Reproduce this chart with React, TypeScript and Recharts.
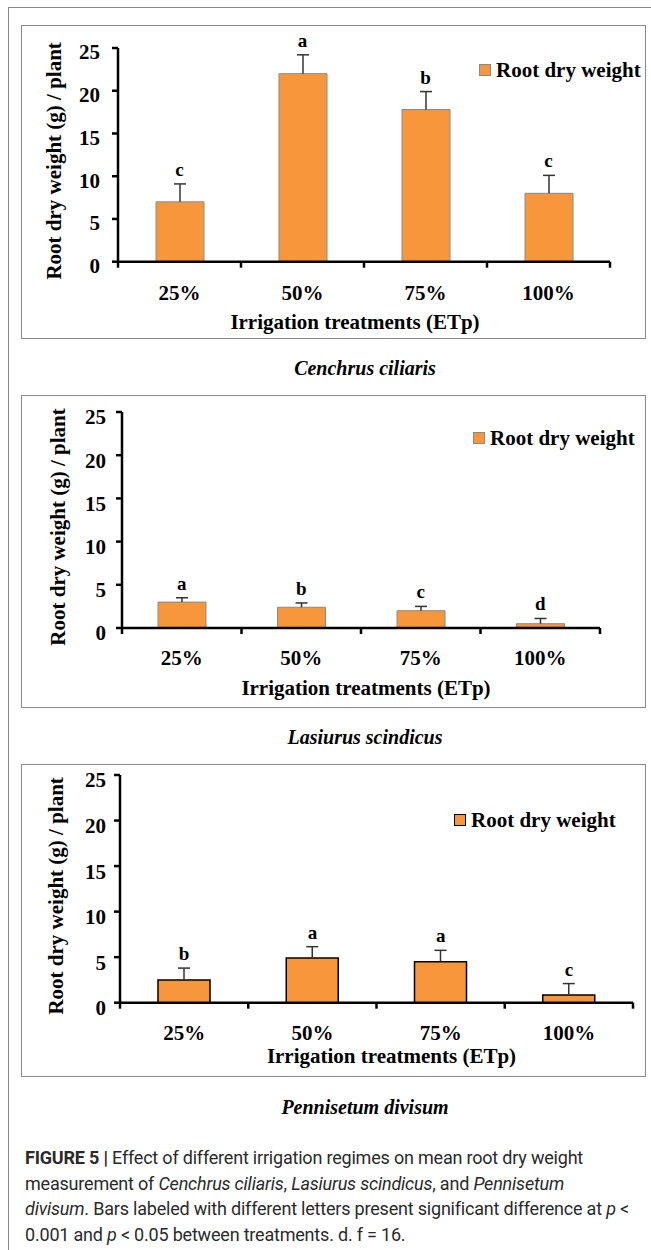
import { Bar, ComposedChart, LabelList, Legend, Line, XAxis, YAxis } from "recharts";

const categories = ["25%", "50%", "75%", "100%"];
const yTicks = [0, 5, 10, 15, 20, 25];

const cenchrusMean = [7.0, 22.0, 17.8, 8.0];
const cenchrusErr = [2.1, 2.2, 2.1, 2.1];
const cenchrusLetters = ["c", "a", "b", "c"];

const lasiurusMean = [3.0, 2.4, 2.0, 0.5];
const lasiurusErr = [0.5, 0.5, 0.5, 0.6];
const lasiurusLetters = ["a", "b", "c", "d"];

const pennisetumMean = [2.5, 4.9, 4.5, 0.85];
const pennisetumErr = [1.3, 1.25, 1.25, 1.25];
const pennisetumLetters = ["b", "a", "a", "c"];

const ORANGE = "#F8963C";
const SERIF = "'Liberation Serif', 'Times New Roman', serif";
const CHART_W = 625;

const toRows = (mean: number[], err: number[], letters: string[]) =>
  categories.map((c, i) => ({
    name: c,
    value: mean[i],
    err: err[i],
    top: mean[i] + err[i],
    letter: letters[i],
  }));

interface Geo {
  top: number;
  height: number;
  plotLeft: number;
  plotRight: number;
  plotTop: number;
  plotBottom: number;
  xTickBase: number;
  xTitleOffset: number;
  xTitleDx: number;
  yTitleDx: number;
  yTitleDy: number;
  yTickMargin: number;
  yTickDy: number;
  legendX: number;
  legendY: number;
  barSize: number;
  barStroke: string;
  barStrokeWidth: number;
  captionY: number;
}

// upper half of the error bar only: stem from bar top + cap
const ErrorShape = (props: any) => {
  const { x, y, width, height } = props;
  const cx = x + width / 2;
  return (
    <g>
      <line x1={cx} x2={cx} y1={y + height} y2={y} stroke="#333" strokeWidth={1.5} />
      <line x1={cx - 6} x2={cx + 6} y1={y} y2={y} stroke="#333" strokeWidth={1.5} />
    </g>
  );
};

function makeXTick(band: number, base: number) {
  return (props: any) => {
    const { x, y, payload, index } = props;
    const axisY = y - base;
    return (
      <g>
        <line x1={x - band / 2} x2={x - band / 2} y1={axisY} y2={axisY + 6} stroke="#000" strokeWidth={2.5} />
        {index === categories.length - 1 && (
          <line x1={x + band / 2} x2={x + band / 2} y1={axisY} y2={axisY + 6} stroke="#000" strokeWidth={2.5} />
        )}
        <text x={x} y={y} textAnchor="middle" fill="#000" fontSize={21} fontWeight="bold">
          {payload.value}
        </text>
      </g>
    );
  };
}

function Panel({ species, rows, g }: { species: string; rows: any[]; g: Geo }) {
  const band = (g.plotRight - g.plotLeft) / categories.length;
  return (
    <>
      <div
        style={{
          position: "absolute",
          left: 21,
          top: g.top,
          width: CHART_W,
          height: g.height,
          boxSizing: "border-box",
          border: "1px solid #8a8a8a",
        }}
      >
        <div style={{ position: "absolute", left: -1, top: -1 }}>
          <ComposedChart
            width={CHART_W}
            height={g.height}
            data={rows}
            margin={{ top: g.plotTop, right: CHART_W - g.plotRight, left: g.plotLeft - 60, bottom: 0 }}
          >
            <XAxis
              dataKey="name"
              height={g.height - g.plotBottom}
              axisLine={{ stroke: "#000", strokeWidth: 2.5 }}
              tickLine={false}
              tickSize={0}
              tickMargin={g.xTickBase}
              tick={makeXTick(band, g.xTickBase)}
              interval={0}
              label={{
                value: "Irrigation treatments (ETp)",
                position: "insideBottom",
                offset: g.xTitleOffset,
                dx: g.xTitleDx,
                fill: "#000",
                fontSize: 21,
                fontWeight: "bold",
              }}
            />
            <YAxis
              width={60}
              domain={[0, 25]}
              ticks={yTicks}
              interval={0}
              axisLine={{ stroke: "#000", strokeWidth: 2.5 }}
              tickLine={{ stroke: "#000", strokeWidth: 2.5 }}
              tickSize={6}
              tickMargin={g.yTickMargin}
              tick={{ fill: "#000", fontSize: 21, fontWeight: "bold", dy: g.yTickDy }}
              label={{
                value: "Root dry weight (g) / plant",
                angle: -90,
                position: "center",
                dx: g.yTitleDx,
                dy: g.yTitleDy,
                fill: "#000",
                fontSize: 21,
                fontWeight: "bold",
              }}
            />
            <Legend
              layout="vertical"
              align="center"
              verticalAlign="middle"
              wrapperStyle={{ left: g.legendX, top: g.legendY, width: 200, fontFamily: SERIF }}
              content={(props: any) => (
                <div style={{ display: "flex", alignItems: "center" }}>
                  {(props.payload || [])
                    .filter((p: any) => p.dataKey === "value")
                    .map((p: any) => (
                      <div key={p.value} style={{ display: "flex", alignItems: "center" }}>
                        <span
                          style={{
                            display: "inline-block",
                            width: 12,
                            height: 12,
                            background: ORANGE,
                            border: `1px solid ${g.barStroke}`,
                            boxSizing: "border-box",
                            marginRight: 5,
                          }}
                        />
                        <span style={{ fontFamily: SERIF, fontWeight: "bold", fontSize: 21, color: "#000", lineHeight: "24px" }}>
                          {p.value}
                        </span>
                      </div>
                    ))}
                </div>
              )}
            />
            <Bar
              dataKey="value"
              name="Root dry weight"
              stackId="s"
              fill={ORANGE}
              stroke={g.barStroke}
              strokeWidth={g.barStrokeWidth}
              barSize={g.barSize}
              isAnimationActive={false}
            />
            <Bar
              dataKey="err"
              stackId="s"
              legendType="none"
              barSize={g.barSize}
              shape={ErrorShape}
              isAnimationActive={false}
            />
            <Line
              dataKey="top"
              stroke="none"
              dot={false}
              activeDot={false}
              legendType="none"
              isAnimationActive={false}
            >
              <LabelList dataKey="letter" position="top" offset={8} fill="#000" fontSize={19} fontWeight="bold" />
            </Line>
          </ComposedChart>
        </div>
      </div>
      <div
        style={{
          position: "absolute",
          left: 165,
          top: g.captionY - 12,
          width: 400,
          textAlign: "center",
          fontFamily: SERIF,
          fontStyle: "italic",
          fontWeight: "bold",
          fontSize: 20,
          lineHeight: "24px",
        }}
      >
        {species}
      </div>
    </>
  );
}

const geo1: Geo = {
  top: 25, height: 314, plotLeft: 97, plotRight: 589, plotTop: 23, plotBottom: 236.7,
  xTickBase: 38, xTitleOffset: 10, xTitleDx: -9, yTitleDx: -34, yTitleDy: 6, yTickMargin: 12, yTickDy: 4,
  legendX: 458, legendY: 33, barSize: 48, barStroke: "#8a8a8a", barStrokeWidth: 1, captionY: 368,
};
const geo2: Geo = {
  top: 395, height: 313, plotLeft: 101, plotRight: 579, plotTop: 17, plotBottom: 233,
  xTickBase: 37, xTitleOffset: 13, xTitleDx: 5, yTitleDx: -34, yTitleDy: 7, yTickMargin: 10, yTickDy: 5,
  legendX: 452, legendY: 31, barSize: 48, barStroke: "#8a8a8a", barStrokeWidth: 1, captionY: 737,
};
const geo3: Geo = {
  top: 764, height: 313, plotLeft: 99, plotRight: 612, plotTop: 11, plotBottom: 238.7,
  xTickBase: 37.3, xTitleOffset: 14, xTitleDx: 15, yTitleDx: -34, yTitleDy: 7, yTickMargin: 8, yTickDy: 5,
  legendX: 433, legendY: 44, barSize: 52, barStroke: "#000", barStrokeWidth: 1.5, captionY: 1107,
};

export default function App() {
  return (
    <div
      style={{
        position: "absolute",
        left: 0,
        top: 0,
        width: 651,
        height: 1250,
        overflow: "hidden",
        background: "#fff",
        fontFamily: SERIF,
        fontWeight: "bold",
      }}
    >
      <div
        style={{
          position: "absolute",
          left: 8,
          top: 7,
          width: 700,
          height: 1300,
          borderTop: "1px solid #8a8a8a",
          borderLeft: "1px solid #8a8a8a",
        }}
      />
      <Panel species="Cenchrus ciliaris" rows={toRows(cenchrusMean, cenchrusErr, cenchrusLetters)} g={geo1} />
      <Panel species="Lasiurus scindicus" rows={toRows(lasiurusMean, lasiurusErr, lasiurusLetters)} g={geo2} />
      <Panel species="Pennisetum divisum" rows={toRows(pennisetumMean, pennisetumErr, pennisetumLetters)} g={geo3} />
      <div
        style={{
          position: "absolute",
          left: 25,
          top: 1145,
          width: 620,
          whiteSpace: "nowrap",
          fontFamily: "Roboto, 'Liberation Sans', sans-serif",
          fontWeight: "normal",
          fontSize: 18,
          lineHeight: "25.5px",
          color: "#2a2a2a",
          letterSpacing: -0.2,
        }}
      >
        <b>FIGURE 5 |</b> Effect of different irrigation regimes on mean root dry weight
        <br />
        measurement of <i>Cenchrus ciliaris</i>, <i>Lasiurus scindicus</i>, and <i>Pennisetum</i>
        <br />
        <i>divisum</i>. Bars labeled with different letters present significant difference at <i>p</i> &lt;
        <br />
        0.001 and <i>p</i> &lt; 0.05 between treatments. d. f = 16.
      </div>
    </div>
  );
}
